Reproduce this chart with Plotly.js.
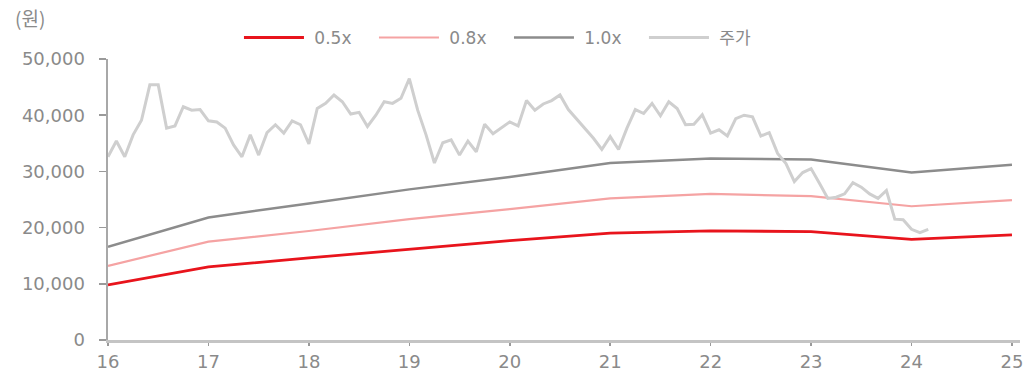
<!DOCTYPE html>
<html>
<head>
<meta charset="utf-8">
<script src="https://cdn.plot.ly/plotly-3.0.1.min.js"></script>
<style>html,body{margin:0;padding:0;background:#fff;}#chart{width:1030px;height:372px;}</style>
</head>
<body>
<div id="chart"></div>
<script>
// Band years (x-axis, two-digit year)
const bandYears = [16, 17, 18, 19, 20, 21, 22, 23, 24, 25];
const band05 = [9800, 13000, 14600, 16100, 17700, 19000, 19400, 19300, 17900, 18700];
const band08 = [13200, 17500, 19400, 21500, 23300, 25200, 26000, 25600, 23800, 24900];
const band10 = [16600, 21800, 24300, 26800, 29000, 31500, 32300, 32100, 29800, 31200];

// Monthly share price (원), starting Jan 2016
const priceStartYear = 16;
const price = [
  32600, 35400, 32600, 36500, 39100, 45400, 45400, 37700, 38100, 41500, 40900, 41000,
  39000, 38800, 37700, 34700, 32600, 36500, 32900, 36900, 38300, 36800, 39000, 38300,
  34900, 41200, 42100, 43600, 42400, 40200, 40500, 38000, 40000, 42400, 42100, 43000,
  46500, 40900, 36500, 31500, 35100, 35600, 32900, 35400, 33500, 38400, 36700, 37800,
  38800, 38100, 42600, 40900, 42000, 42600, 43600, 41000, 39300, 37700, 35900, 33900,
  36200, 33900, 37700, 41000, 40300, 42100, 39900, 42400, 41200, 38300, 38400, 40100,
  36800, 37400, 36300, 39400, 40000, 39700, 36300, 36900, 33200, 31400, 28200, 29800,
  30500, 27900, 25200, 25400, 26000, 28000, 27200, 26000, 25200, 26600, 21500, 21400,
  19700, 19100, 19700
];
const priceX = price.map((_, i) => priceStartYear + i / 12);

const seriesNames = ['0.5x', '0.8x', '1.0x', '주가'];
const tickVals = [16, 17, 18, 19, 20, 21, 22, 23, 24, 25];
const tickText = ['16', '17', '18', '19', '20', '21', '22', '23', '24', '25'];
const yTickVals = [0, 10000, 20000, 30000, 40000, 50000];
const yTickText = ['0', '10,000', '20,000', '30,000', '40,000', '50,000'];
const unitLabel = '(원)';

const txt = '#8a8a8a';
const fontFam = 'DejaVu Sans, Noto Sans CJK KR, sans-serif';
const pad = '\u00a0';

const traces = [
  {x: bandYears, y: band05, name: pad + seriesNames[0], mode: 'lines', line: {color: '#e8141c', width: 2.8}},
  {x: bandYears, y: band08, name: pad + seriesNames[1], mode: 'lines', line: {color: '#f5a3a3', width: 2.2}},
  {x: bandYears, y: band10, name: pad + seriesNames[2], mode: 'lines', line: {color: '#8c8c8c', width: 2.5}},
  {x: priceX, y: price, name: pad + seriesNames[3], mode: 'lines', line: {color: '#cfcfcf', width: 3}}
];

const layout = {
  width: 1030, height: 372,
  margin: {l: 108, r: 10, t: 59, b: 32, autoexpand: false},
  paper_bgcolor: '#fff', plot_bgcolor: '#fff',
  font: {family: fontFam, size: 17, color: txt},
  showlegend: true,
  legend: {
    orientation: 'h', x: 0.1436, xanchor: 'left', y: 1.075, yanchor: 'middle',
    font: {family: fontFam, size: 17, color: txt},
    itemwidth: 60, entrywidth: 60, entrywidthmode: 'pixels',
    tracegroupgap: 0, bgcolor: 'rgba(0,0,0,0)'
  },
  xaxis: {
    range: [16, 25.08], tickvals: tickVals, ticktext: tickText,
    showgrid: false, zeroline: false,
    showline: true, linecolor: '#c4c4c4', linewidth: 3,
    ticks: 'outside', ticklen: 3, tickwidth: 1.5, tickcolor: '#9a9a9a',
    tickfont: {family: fontFam, size: 18, color: txt}
  },
  yaxis: {
    range: [0, 50000], tickvals: yTickVals, ticktext: yTickText,
    showgrid: false, zeroline: false,
    showline: true, linecolor: '#a8a8a8', linewidth: 2.5,
    ticks: 'outside', ticklen: 7, tickwidth: 1.5, tickcolor: '#9a9a9a',
    ticklabelstandoff: 10,
    tickfont: {family: fontFam, size: 18, color: txt}
  },
  annotations: [{
    text: unitLabel, xref: 'paper', yref: 'paper', x: -0.104, y: 1.146,
    xanchor: 'left', yanchor: 'middle', showarrow: false,
    font: {family: 'Noto Sans CJK KR, sans-serif', size: 19, color: txt}
  }]
};

Plotly.newPlot('chart', traces, layout, {displayModeBar: false, staticPlot: true});
</script>
</body>
</html>
